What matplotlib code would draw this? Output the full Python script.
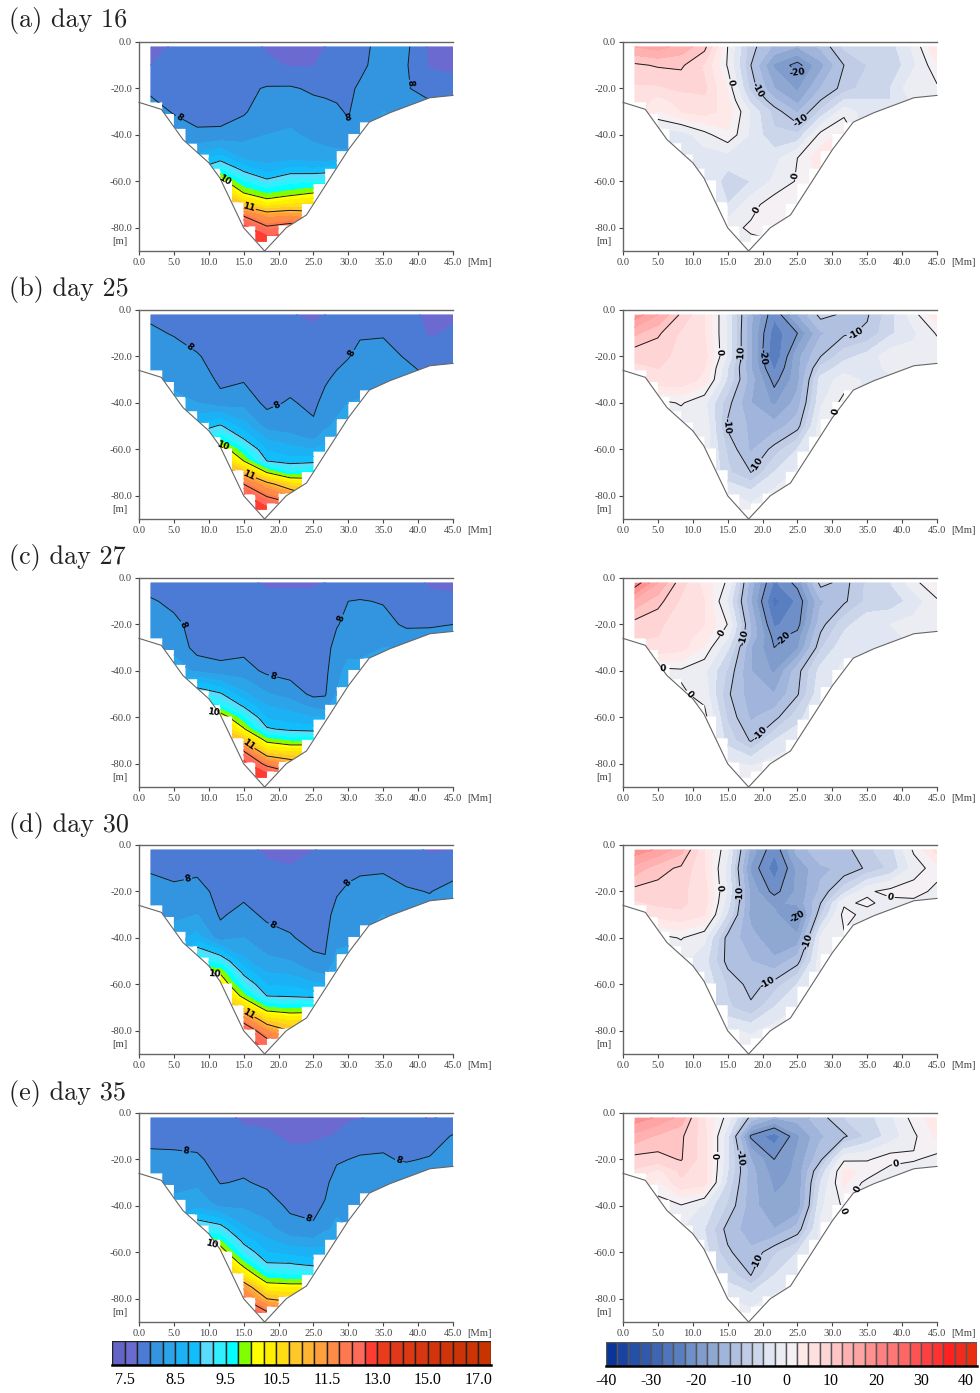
import numpy as np
import matplotlib
matplotlib.use('Agg')
import matplotlib.pyplot as plt
from matplotlib.path import Path
from matplotlib.patches import PathPatch

# section grids
temp_x = [1.67, 5, 8.33, 11.67, 15, 18.33, 21.67, 25, 26.67, 28.33, 30, 31.67, 35, 38.33, 41.67, 45]
anom_x = [1.67, 5, 8.33, 11.67, 15, 18.33, 21.67, 25, 28.33, 31.67, 35, 38.33, 41.67, 45]
temp_depths = [2, 10, 20, 30, 40, 50, 55, 60, 65, 70, 75, 80, 86]
anom_depths = [2, 10, 20, 25, 30, 40, 50, 60, 70, 80, 88]

# seabed and model bottom
coast_x = [0, 3.2, 6.3, 10, 11.6, 15, 18, 21.1, 24, 30, 33, 36, 41.7, 45]
coast_d = [26, 29, 42, 52, 58.6, 80, 90, 80, 74.5, 46.4, 34.5, 30.4, 24, 23]
cell_bottom = [26, 31, 37.4, 43.6, 48.5, 54.6, 59.6, 69, 79.4, 86, 83.3, 79, 79, 69.7, 61, 54.6,
               47, 39.6, 34.6, 90, 90, 90, 90, 90, 90, 90, 90]

# temperature sections
temp_a = [
    [7.6, 7.8, 7.85, 7.85, 7.85, 7.72, 7.7, 7.72, 7.75, 7.85, 7.87, 7.92, 8.1, 8.05, 7.7, 7.65],
    [7.75, 7.85, 7.88, 7.88, 7.9, 7.8, 7.73, 7.74, 7.8, 7.88, 7.92, 7.95, 8.1, 8.02, 7.72, 7.72],
    [7.95, 7.92, 7.9, 7.9, 7.95, 8.02, 8.03, 7.96, 7.95, 7.95, 7.96, 8.03, 8.15, 8.02, 7.9, 7.8],
    [8.1, 7.98, 7.94, 7.93, 7.97, 8.15, 8.17, 8.1, 8.07, 8.03, 7.98, 8.12, 8.25, 8.2, 8.1, 8.05],
    [8.3, 8.15, 8.03, 8.04, 8.15, 8.25, 8.28, 8.2, 8.15, 8.1, 8.05, 8.2, 8.3, 8.3, 8.2, 8.1],
    [8.6, 8.5, 8.6, 8.85, 8.45, 8.4, 8.42, 8.35, 8.35, 8.35, 8.35, 8.4, 8.4, 8.4, 8.3, 8.2],
    [9, 9, 9.05, 9.5, 8.92, 8.6, 8.82, 8.8, 8.85, 9.05, 8.95, 9, 8.5, 8.5, 8.4, 8.3],
    [9.4, 9.4, 9.6, 10.2, 9.45, 9.1, 9.35, 9.4, 9.4, 9.4, 9.3, 9.3, 8.6, 8.6, 8.5, 8.4],
    [10, 10, 10.3, 10.8, 10, 9.7, 9.85, 10, 9.9, 9.8, 9.6, 9.5, 8.7, 8.7, 8.6, 8.5],
    [11, 11, 11, 11.2, 10.8, 10.3, 10.5, 10.6, 10.5, 10.4, 10, 9.8, 8.8, 8.8, 8.7, 8.6],
    [11.5, 11.5, 11.5, 11.7, 12, 11.4, 11.5, 11.3, 11.1, 11, 10.5, 10.2, 8.9, 8.9, 8.8, 8.7],
    [12, 12, 12, 12.2, 12.8, 12.1, 12.3, 12, 11.7, 11.5, 11, 10.5, 9, 9, 8.9, 8.8],
    [12.5, 12.5, 12.5, 12.7, 13, 13, 13, 12.5, 12.2, 12, 11.5, 11, 9.1, 9.1, 9, 8.9],
]
temp_b = [
    [7.95, 7.85, 7.82, 7.82, 7.8, 7.8, 7.77, 7.7, 7.75, 7.8, 7.83, 7.85, 7.85, 7.82, 7.7, 7.72],
    [8.05, 7.98, 7.86, 7.84, 7.85, 7.83, 7.83, 7.8, 7.82, 7.85, 7.92, 7.95, 7.97, 7.88, 7.72, 7.78],
    [8.15, 8.12, 8.03, 7.86, 7.87, 7.86, 7.86, 7.85, 7.88, 7.9, 7.98, 8.12, 8.12, 7.97, 7.88, 7.85],
    [8.2, 8.2, 8.15, 7.95, 7.98, 7.88, 7.9, 7.88, 7.96, 8.07, 8.18, 8.2, 8.2, 8.15, 8, 7.95],
    [8.35, 8.3, 8.25, 8.08, 8.15, 7.94, 8.03, 7.93, 8.1, 8.15, 8.25, 8.26, 8.25, 8.2, 8.1, 8.05],
    [8.9, 8.85, 8.8, 9.05, 8.6, 8.15, 8.15, 8.05, 8.2, 8.3, 8.3, 8.3, 8.3, 8.3, 8.2, 8.1],
    [9.2, 9.2, 9.2, 9.6, 8.95, 8.45, 8.3, 8.2, 8.35, 8.5, 8.5, 8.5, 8.4, 8.4, 8.3, 8.2],
    [9.6, 9.6, 9.7, 10.3, 9.5, 8.7, 8.6, 8.5, 8.6, 8.7, 8.7, 8.7, 8.5, 8.5, 8.4, 8.3],
    [10.2, 10.2, 10.3, 10.8, 10, 9, 8.85, 8.9, 8.9, 9, 9, 9, 8.6, 8.6, 8.5, 8.4],
    [11, 11, 11, 11.2, 10.95, 10, 9.5, 9.6, 9.6, 9.5, 9.4, 9.3, 8.7, 8.7, 8.6, 8.5],
    [11.5, 11.5, 11.5, 11.6, 12, 11.2, 10.6, 10.4, 10.2, 10, 9.8, 9.6, 8.8, 8.8, 8.7, 8.6],
    [12, 12, 12, 12, 12.7, 11.95, 11.5, 11, 10.8, 10.5, 10.2, 10, 8.9, 8.9, 8.8, 8.7],
    [12.5, 12.5, 12.5, 12.5, 13, 12.8, 12.5, 12, 11.5, 11, 10.7, 10.5, 9, 9, 8.9, 8.8],
]
temp_c = [
    [7.8, 7.8, 7.8, 7.8, 7.8, 7.72, 7.72, 7.72, 7.75, 7.8, 7.8, 7.8, 7.85, 7.85, 7.72, 7.7],
    [8.05, 7.9, 7.8, 7.8, 7.82, 7.82, 7.82, 7.82, 7.83, 7.85, 8, 8.02, 7.98, 7.85, 7.8, 7.8],
    [8.2, 8.1, 7.85, 7.85, 7.85, 7.85, 7.85, 7.85, 7.88, 7.98, 8.08, 8.1, 8.1, 7.95, 7.95, 8],
    [8.25, 8.2, 7.9, 7.9, 7.93, 7.88, 7.88, 7.86, 7.9, 8.1, 8.2, 8.2, 8.25, 8.25, 8.3, 8.3],
    [8.35, 8.35, 8.2, 8.08, 8.1, 7.95, 7.92, 7.85, 7.93, 8.2, 8.3, 8.3, 8.3, 8.3, 8.3, 8.3],
    [8.9, 8.9, 9.3, 9.05, 8.55, 8.27, 8.12, 7.95, 7.98, 8.25, 8.3, 8.35, 8.35, 8.3, 8.3, 8.3],
    [9.3, 9.3, 9.8, 9.5, 8.95, 8.5, 8.4, 8.15, 8.1, 8.5, 8.5, 8.5, 8.4, 8.4, 8.4, 8.4],
    [9.7, 9.7, 10.3, 10.3, 9.5, 8.7, 8.6, 8.5, 8.55, 8.8, 8.7, 8.7, 8.5, 8.5, 8.5, 8.5],
    [10.3, 10.3, 10.8, 10.8, 10.05, 9.05, 8.9, 8.85, 8.9, 9.1, 9, 9, 8.6, 8.6, 8.6, 8.6],
    [11, 11, 11.2, 11.2, 10.9, 9.9, 9.7, 9.7, 9.6, 9.6, 9.4, 9.3, 8.7, 8.7, 8.7, 8.7],
    [11.5, 11.5, 11.6, 11.6, 12.1, 10.6, 10.5, 10.5, 10.2, 10, 9.8, 9.6, 8.8, 8.8, 8.8, 8.8],
    [12, 12, 12, 12, 12.8, 11.8, 11.3, 11, 10.8, 10.5, 10.2, 10, 8.9, 8.9, 8.9, 8.9],
    [12.5, 12.5, 12.5, 12.5, 13, 13, 12.5, 12, 11.5, 11, 10.7, 10.5, 9, 9, 9, 9],
]
temp_d = [
    [7.85, 7.85, 7.85, 7.85, 7.8, 7.72, 7.7, 7.74, 7.78, 7.82, 7.83, 7.85, 7.85, 7.82, 7.72, 7.74],
    [7.97, 7.93, 7.95, 7.9, 7.85, 7.78, 7.76, 7.85, 7.86, 7.88, 7.92, 7.95, 7.97, 7.88, 7.85, 7.88],
    [8.1, 8.05, 8.08, 7.93, 7.93, 7.88, 7.85, 7.85, 7.86, 7.97, 8.05, 8.1, 8.1, 8.03, 7.99, 8.1],
    [8.2, 8.2, 8.25, 7.97, 8.08, 7.95, 7.93, 7.88, 7.9, 8.1, 8.15, 8.2, 8.25, 8.2, 8.1, 8.2],
    [8.35, 8.35, 8.6, 8.1, 8.25, 8.1, 8.02, 7.93, 7.95, 8.2, 8.22, 8.25, 8.3, 8.25, 8.2, 8.2],
    [8.7, 8.7, 9.6, 9.3, 8.55, 8.3, 8.25, 8.05, 8.02, 8.3, 8.3, 8.3, 8.3, 8.3, 8.25, 8.25],
    [9.2, 9.2, 10, 9.95, 8.92, 8.5, 8.45, 8.25, 8.2, 8.5, 8.45, 8.4, 8.4, 8.4, 8.3, 8.3],
    [9.7, 9.7, 10.4, 10.4, 9.3, 8.72, 8.7, 8.55, 8.5, 8.7, 8.65, 8.6, 8.5, 8.5, 8.4, 8.4],
    [10.3, 10.3, 10.8, 10.8, 9.85, 9, 8.96, 8.9, 8.9, 9, 8.9, 8.8, 8.6, 8.6, 8.5, 8.5],
    [11, 11, 11.2, 11.2, 10.65, 9.75, 9.65, 9.7, 9.6, 9.5, 9.2, 9, 8.7, 8.7, 8.6, 8.6],
    [11.5, 11.5, 11.6, 11.6, 11.7, 10.6, 10.4, 10.4, 10.2, 10, 9.6, 9.3, 8.8, 8.8, 8.7, 8.7],
    [12, 12, 12, 12, 12.6, 11.5, 11, 11, 10.8, 10.5, 10, 9.6, 8.9, 8.9, 8.8, 8.8],
    [12.5, 12.5, 12.5, 12.5, 13, 12.4, 12, 12, 11.5, 11, 10.5, 10, 9, 9, 8.9, 8.9],
]
temp_e = [
    [7.85, 7.85, 7.85, 7.85, 7.7, 7.7, 7.65, 7.65, 7.68, 7.7, 7.72, 7.74, 7.82, 7.85, 7.73, 7.8],
    [7.93, 7.93, 7.93, 7.88, 7.83, 7.78, 7.72, 7.72, 7.74, 7.76, 7.82, 7.87, 7.95, 7.88, 7.88, 8.02],
    [8.06, 8.05, 8.03, 7.93, 7.92, 7.88, 7.8, 7.83, 7.88, 7.97, 8, 8.03, 8.02, 7.98, 8.02, 8.18],
    [8.2, 8.2, 8.2, 7.99, 8.02, 7.96, 7.88, 7.9, 7.95, 8.1, 8.13, 8.15, 8.15, 8.15, 8.15, 8.2],
    [8.35, 8.3, 8.4, 8.2, 8.2, 8.1, 7.96, 7.95, 8.02, 8.2, 8.2, 8.2, 8.2, 8.2, 8.2, 8.2],
    [8.7, 8.7, 9.4, 9.2, 8.55, 8.35, 8.08, 8.03, 8.2, 8.3, 8.25, 8.2, 8.2, 8.2, 8.2, 8.2],
    [9.2, 9.2, 10, 9.75, 8.9, 8.55, 8.35, 8.3, 8.4, 8.5, 8.4, 8.3, 8.3, 8.3, 8.3, 8.3],
    [9.7, 9.7, 10.4, 10.3, 9.25, 8.75, 8.65, 8.6, 8.6, 8.7, 8.55, 8.4, 8.4, 8.4, 8.4, 8.4],
    [10.3, 10.3, 10.8, 10.8, 9.85, 9.03, 9.02, 8.9, 8.9, 9, 8.8, 8.6, 8.5, 8.5, 8.5, 8.5],
    [11, 11, 11.2, 11.2, 10.45, 9.6, 9.5, 9.5, 9.5, 9.4, 9.1, 8.9, 8.6, 8.6, 8.6, 8.6],
    [11.5, 11.5, 11.6, 11.6, 11.4, 10.25, 10.2, 10.2, 10.2, 10, 9.6, 9.3, 8.7, 8.7, 8.7, 8.7],
    [12, 12, 12, 12, 12, 11, 10.8, 10.8, 10.8, 10.5, 10, 9.6, 8.8, 8.8, 8.8, 8.8],
    [12.5, 12.5, 12.5, 12.5, 12.7, 12.1, 11.8, 11.8, 11.5, 11, 10.5, 10, 8.9, 8.9, 8.9, 8.9],
]

# anomaly sections
anom_a = [
    [15, 16, 14, 11, 0, -9, -13, -15, -12, -7, -5, -6, -2, 5],
    [9.5, 10.3, 10.5, 7, -0.3, -10, -18, -21, -16, -10, -7.5, -7, -3, 2],
    [7, 7, 8, 8, 2, -8.5, -15, -18, -12.5, -9, -6, -5, -0.5, -0.5],
    [7, 4, 6, 7, 3, -6, -12, -16, -10, -5, -5, -5, -2, -2],
    [7, 2, 5, 6, 4, -3, -8.5, -13, -7, -1, -4, -4, -4, -4],
    [-4, -4, -4, -1, 2, -3, -7, -7, 1, 3, -4, -4, -4, -4],
    [-3, -3, -3, -4, -4, -3.5, -3.5, 0, 4, 4, -3, -3, -3, -3],
    [-3, -3, -3, -3, -6, -5, -2, 0.3, 3, 3, -3, -3, -3, -3],
    [-3, -3, -3, -3, -5, -1, 1.5, 2, 2, 2, -3, -3, -3, -3],
    [-2, -2, -2, -2, -1, 0.5, 2, 2, 2, 2, -2, -2, -2, -2],
    [-1, -1, -1, -1, -1, -1, -1, -1, -1, -1, -1, -1, -1, -1],
]
anom_b = [
    [19, 15, 9.5, 5, -3, -14.5, -22, -15, -9, -10.5, -10.3, -6, -1, 4],
    [13, 10.5, 7, 5, -3, -15, -24, -20, -13, -10.5, -9.5, -5.5, -3, 0.3],
    [8, 8, 7, 6, -3, -15, -25, -16, -10, -6, -4, -1, -1.5, -2],
    [7, 7.5, 7, 5, -5, -15, -23, -16, -7, -3.5, -3.5, -2, -2, -2.5],
    [6, 7, 7, 4, -5.5, -14, -21, -16, -4, -1.5, -3, -3, -3, -3],
    [-1, -1, 0.3, -2, -9, -15, -18, -14, -3, 1, -3, -3, -3, -3],
    [-2, -2, -2, -0.5, -10.5, -13, -14, -11, -1, 1, -3, -3, -3, -3],
    [-1, -1, -1, -1, -8, -13, -9, -5, -2, -2, -2, -2, -2, -2],
    [-1, -1, -1, -1, -7, -10, -5, -2, -2, -2, -2, -2, -2, -2],
    [-1, -1, -1, -1, -2, -3.5, -1.5, -1, -1, -1, -1, -1, -1, -1],
    [-1, -1, -1, -1, -1, -1, -1, -1, -1, -1, -1, -1, -1, -1],
]
anom_c = [
    [22, 15, 8.5, 4, -0.5, -14, -23, -19, -9, -11, -7, -5, -1, 3],
    [14, 11, 7, 5, -3, -15, -26, -22, -13, -10.5, -7, -6.5, -4, -0.5],
    [9, 8, 6, 5, -0.1, -13, -23, -21, -11, -6, -3, -2.5, -1.5, -0.5],
    [8, 7.5, 6, 4, -2, -13, -21, -19, -9.5, -4.5, -3, -3, -2, -2],
    [7, 7, 6, 2, -4.6, -15, -20, -18, -8, -3, -3, -3, -3, -3],
    [-1, -1, -0.5, -2, -8, -15, -18, -11, -4, -2, -3, -3, -3, -3],
    [-1, -1, 0.5, -1, -9.5, -14, -15, -10.3, -3, -2, -3, -3, -3, -3],
    [1, 1, 1, 1, -8, -13, -11, -6, -2, -2, -2, -2, -2, -2],
    [1, 1, 1, 1, -6, -10.3, -5, -3, -2, -2, -2, -2, -2, -2],
    [-1, -1, -1, -1, -2, -3, -1.5, -1, -1, -1, -1, -1, -1, -1],
    [0.5, 0.5, 0.5, 0.5, 0.5, 0.5, 0.5, 0.5, 0.5, 0.5, 0.5, 0.5, 0.5, 0.5],
]
anom_d = [
    [19, 17, 13.5, 5, -2, -16, -22, -14, -10.5, -11, -8, -6, 0.5, 6],
    [14, 11, 9.5, 5, -3.5, -18, -24, -17, -13, -12, -9.5, -7, -1.5, 1.5],
    [9, 9, 8, 6, -3, -16, -21, -17, -12, -6, -0.5, 1, 1.5, -1],
    [7, 8, 8, 6, -4, -16, -18, -17, -10, -0.5, 0.5, -1, -1, -2],
    [5, 6, 7, 5, -5.5, -16, -17, -20.5, -8, 1, -1, -2, -3, -3],
    [-1, -1, 0.2, -2, -11, -14, -17, -17, -2, -0.5, -3, -3, -3, -3],
    [-2, -2, -2, -4, -11, -12.5, -14.5, -11, -1, -1, -3, -3, -3, -3],
    [-3, -3, -3, -3, -8, -11, -9, -5, -2, -2, -2, -2, -2, -2],
    [-3, -3, -3, -3, -7, -9.5, -5, -2.5, -2, -2, -2, -2, -2, -2],
    [-2, -2, -2, -2, -2, -3, -1.5, -1, -1, -1, -1, -1, -1, -1],
    [-1, -1, -1, -1, -1, -1, -1, -1, -1, -1, -1, -1, -1, -1],
]
anom_e = [
    [19, 17, 14, 5, -1, -11, -15, -14, -11, -7.5, -6, -3, 1, 4],
    [14, 12, 10.5, 6, -4.5, -20.5, -24, -18, -13, -10.5, -7, -4, -0.5, 3],
    [9, 9, 10.2, 6, -4.5, -15, -20, -17, -10.5, -0.5, -0.3, 1.5, 0.3, -1],
    [7, 4, 8, 6, -5, -14, -19, -17, -7, 3, 2, -1.5, -1.5, -2],
    [5, 2, 7, 6, -6, -14, -18, -17, -5, 3, -1, -2, -3, -3],
    [-1.5, -1.5, -0.3, -3, -8, -14, -17, -17, -3, 0.5, -3, -3, -3, -3],
    [-2.5, -2.5, -2.5, -5, -11, -14, -15, -11.5, -2, -1, -3, -3, -3, -3],
    [-4, -4, -4, -4, -9.5, -12, -8, -5, -2, -2, -2, -2, -2, -2],
    [-3, -3, -3, -3, -6, -10, -5, -3, -2, -2, -2, -2, -2, -2],
    [-2, -2, -2, -2, -2.5, -3.5, -2, -1, -1, -1, -1, -1, -1, -1],
    [-1.5, -1.5, -1.5, -1.5, -1.5, -1.5, -1.5, -1.5, -1.5, -1.5, -1.5, -1.5, -1.5, -1.5],
]
temp_sections = [temp_a, temp_b, temp_c, temp_d, temp_e]
anom_sections = [anom_a, anom_b, anom_c, anom_d, anom_e]

# colour scales
temp_levels = [7.25, 7.5, 7.75, 8, 8.25, 8.5, 8.75, 9, 9.25, 9.5, 9.75, 10, 10.25, 10.5, 10.75, 11,
               11.25, 11.5, 11.875, 12.25, 12.625, 13, 13.5, 14, 14.5, 15, 15.5, 16, 16.5, 17, 17.5]
temp_colors = ['#6464c8', '#6a6ad0', '#4b7bd4', '#3394e0', '#2ba4ea', '#1cb1f5', '#12bdfb', '#59dcfc',
               '#30f0ff', '#00ffff', '#80ff00', '#ffff00', '#fff000', '#ffdc14', '#ffc828', '#ffb432',
               '#ffa03c', '#ff8c46', '#ff7850', '#ff6a5a', '#ff3c32', '#e83c1c', '#e03818', '#dc3814',
               '#d83610', '#d4340c', '#d0340a', '#cc3408', '#cc3404', '#c83400']
temp_ticks = [1, 5, 9, 13, 17, 21, 25, 29]
temp_tick_labels = ['7.5', '8.5', '9.5', '10.5', '11.5', '13.0', '15.0', '17.0']

anom_levels = [-40 + 2.5 * i for i in range(34)]
anom_colors = ['#0a3499', '#1a42a0', '#2450a8', '#3058ac', '#3e66b4', '#5075bc', '#5a7fc0', '#6e8fc8',
               '#7f9ccc', '#8ea8d2', '#a0b4dc', '#b0c0e0', '#c0cce6', '#ccd6ea', '#e0e6f2', '#ecedf2',
               '#f4f0f4', '#ffe8e8', '#ffe0e0', '#ffd4d4', '#ffc4c4', '#ffb0b0', '#ffa4a4', '#ff9090',
               '#ff8080', '#ff7676', '#ff6666', '#ff5252', '#ff4040', '#ff3232', '#ff2020', '#f02c1c',
               '#e83010']
anom_ticks = [0, 4, 8, 12, 16, 20, 24, 28, 32]
anom_tick_labels = ['-40', '-30', '-20', '-10', '0', '10', '20', '30', '40']

# axis labels
x_ticks = [0, 5, 10, 15, 20, 25, 30, 35, 40, 45]
x_tick_labels = ['0.0', '5.0', '10.0', '15.0', '20.0', '25.0', '30.0', '35.0', '40.0', '45.0']
y_ticks = [0, -20, -40, -60, -80]
y_tick_labels = ['0.0', '-20.0', '-40.0', '-60.0', '-80.0']
titles = ['(a) day 16', '(b) day 25', '(c) day 27', '(d) day 30', '(e) day 35']

# contour label spots
temp_spots = [
    [(5.9, -32), (29.9, -35.3), (37.8, -18), (12.5, -59), (15.7, -71.5)],
    [(7, -17), (30.5, -18.5), (19.7, -40.7), (12.3, -57.5), (15.7, -71.7)],
    [(6.3, -20), (28.7, -16.9), (19, -44), (10.8, -54), (15.7, -71.8)],
    [(7.2, -16.7), (30, -16.5), (18.9, -35.5), (10.8, -53.6), (15.7, -72.5)],
    [(6.7, -18), (37, -23), (24, -48), (10.8, -53.3)],
]
anom_spots = [
    [(14.9, -17.8), (19.1, -21), (26, -35), (24.4, -17), (26, -58), (18.9, -72)],
    [(14.3, -18), (17, -19), (19.7, -20), (19.6, -67.5), (36.6, -21), (29.6, -43), (10.6, -51.5)],
    [(14, -23.5), (16.7, -25), (23, -26), (19.6, -66.7), (5.8, -36), (10, -49)],
    [(14, -18.4), (16.3, -21), (25, -31), (20.8, -60), (38.3, -23), (29.5, -44)],
    [(13.7, -18.4), (16.6, -19.5), (19, -63.8), (39.2, -22.5), (32.7, -31.5), (29.6, -44)],
]

W, H = 980, 1393
fig = plt.figure(figsize=(W / 100, H / 100), dpi=100)
tick_color = '#444444'
serif = 'Liberation Serif'


def px_axes(left, top, width, height):
    return fig.add_axes([left / W, 1 - (top + height) / H, width / W, height / H])


def bottom_patch(ax):
    # stepped model bottom, cut off along the seabed
    col_w = 45 / len(cell_bottom)
    verts = [(col_w, -2.0)]
    for i, bottom in enumerate(cell_bottom):
        xs = np.linspace(col_w * (i + 1), col_w * (i + 2), 6)
        ds = np.minimum(bottom, np.interp(xs, coast_x, coast_d))
        verts += [(a, -b) for a, b in zip(xs, ds)]
    verts += [(45, -2.0), (col_w, -2.0)]
    patch = PathPatch(Path(verts), facecolor='none', edgecolor='none', transform=ax.transData)
    ax.add_patch(patch)
    return patch


def section(left, top, x_nodes, field, depths, levels, colors, line_levels, spots):
    ax = px_axes(left, top, 314, 209)
    y_nodes = [-d for d in depths]
    patch = bottom_patch(ax)
    fill = ax.contourf(x_nodes, y_nodes, field, levels=levels, colors=colors)
    fill.set_edgecolor('face')
    fill.set_linewidth(0.3)
    fill.set_clip_path(patch)
    lines = ax.contour(x_nodes, y_nodes, field, levels=line_levels, colors='#1a1a1a', linewidths=0.7,
                       negative_linestyles='solid')
    lines.set_clip_path(patch)
    labels = ax.clabel(lines, manual=spots, fmt='%d', fontsize=6.5, inline=True, inline_spacing=1)
    for label in labels:
        label.set_fontweight('bold')
        label.set_color('black')
    ax.plot(coast_x, [-d for d in coast_d], color='#666666', lw=0.8, clip_on=False)

    ax.set_xlim(0, 45)
    ax.set_ylim(-90, 0)
    ax.set_xticks(x_ticks, x_tick_labels)
    ax.set_yticks(y_ticks, y_tick_labels)
    ax.tick_params(length=3, width=0.8, color=tick_color, labelcolor=tick_color, labelsize=7.6, pad=2)
    for label in ax.get_xticklabels() + ax.get_yticklabels():
        label.set_family(serif)
    ax.spines['right'].set_visible(False)
    for name in ['left', 'bottom', 'top']:
        ax.spines[name].set_color('#666666')
        ax.spines[name].set_linewidth(1.0)
    ax.text(-1.7, -85.7, '[m]', ha='right', va='center', fontsize=7.6, family=serif, color=tick_color)
    ax.text(47.1, -95, '[Mm]', ha='left', va='center', fontsize=7.6, family=serif, color=tick_color,
            clip_on=False)


def scale_bar(left, top, width, height, colors, ticks, tick_labels, edge):
    ax = px_axes(left, top, width, height)
    idx = np.arange(len(colors))
    ax.bar(idx, 1, width=1, align='edge', color=colors, edgecolor=edge, linewidth=1.0)
    ax.set_xlim(0, len(colors))
    ax.set_ylim(0, 1)
    ax.set_yticks([])
    ax.set_xticks(ticks, tick_labels)
    ax.tick_params(axis='x', length=0, labelsize=11.5, pad=5, labelcolor='black')
    for label in ax.get_xticklabels():
        label.set_family(serif)
    for name in ['left', 'right', 'top']:
        ax.spines[name].set_visible(False)
    ax.spines['bottom'].set_linewidth(1.8)
    ax.spines['bottom'].set_color('black')


tops = [42, 310, 578, 845, 1113]
baselines = [27, 296, 564, 832, 1100]
for i, top in enumerate(tops):
    section(139, top, temp_x, temp_sections[i], temp_depths, temp_levels, temp_colors, [8, 9, 10, 11, 12], temp_spots[i])
    section(623, top, anom_x, anom_sections[i], anom_depths, anom_levels, anom_colors, [-30, -20, -10, 0, 10, 20], anom_spots[i])
    fig.text(9 / W, 1 - baselines[i] / H, titles[i], family='cmr10', fontsize=18.8, va='baseline', ha='left', color='#222222')

scale_bar(112, 1341, 379, 24, temp_colors, temp_ticks, temp_tick_labels, '#222222')
scale_bar(606, 1342, 371, 24, anom_colors, anom_ticks, anom_tick_labels, '#555555')

fig.savefig('out.png', dpi=100)
